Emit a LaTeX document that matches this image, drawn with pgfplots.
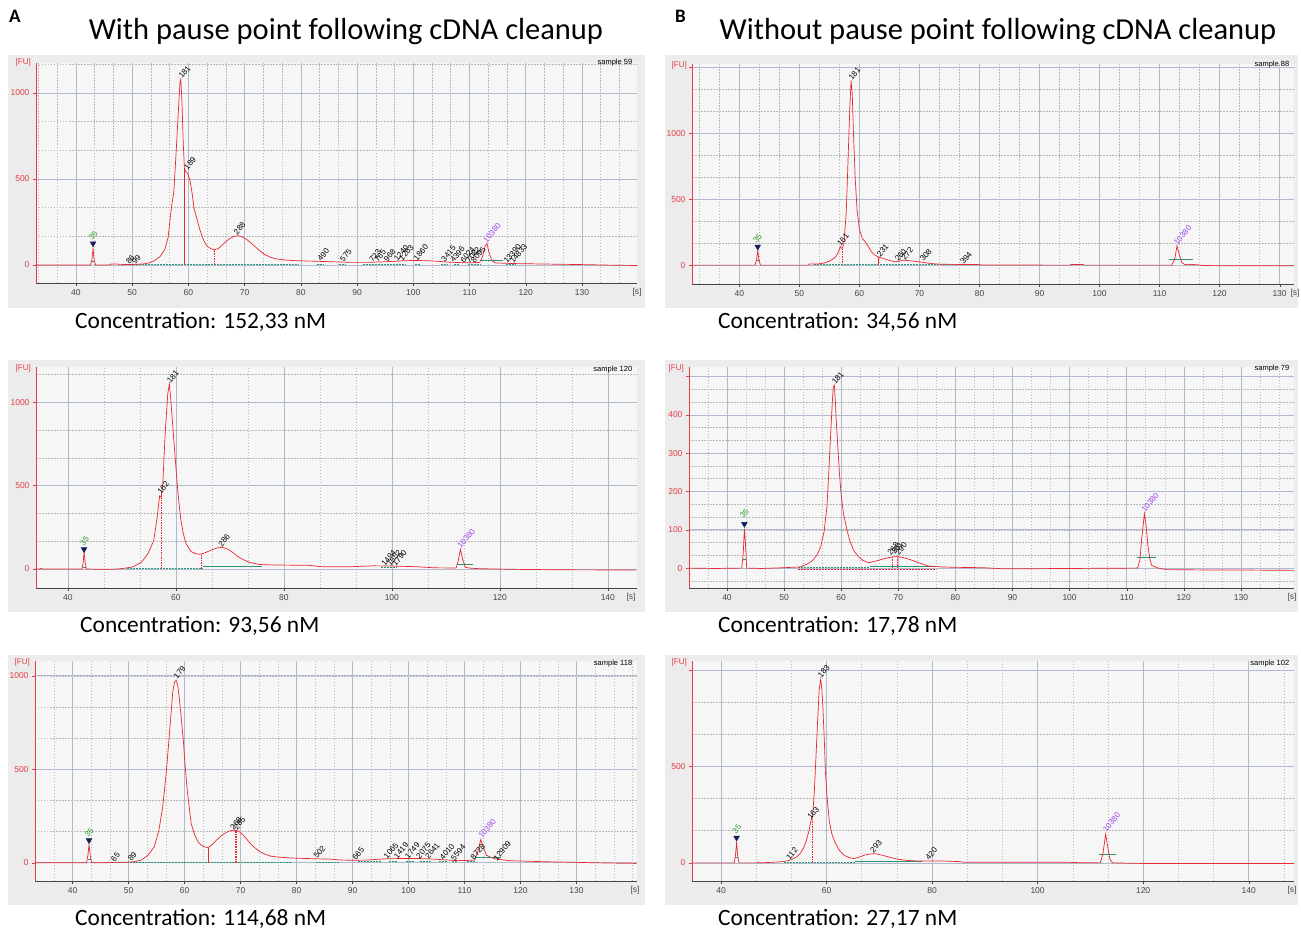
\documentclass[border=0pt]{standalone}
\usepackage{fontspec}
\setmainfont{Carlito}
\newfontfamily\tickfont{Liberation Sans}
\usepackage{pgfplots}
\pgfplotsset{compat=1.18}

\definecolor{trace}{RGB}{232,40,48}
\definecolor{fured}{RGB}{228,60,72}
\definecolor{majgrid}{RGB}{176,186,206}
\definecolor{mingrid}{RGB}{185,185,185}
\definecolor{basegreen}{RGB}{40,150,110}
\definecolor{lab35}{RGB}{40,160,40}
\definecolor{purp}{RGB}{160,70,240}
\definecolor{navy}{RGB}{20,30,90}
\definecolor{boxbg}{RGB}{236,236,236}
\definecolor{plotbg}{RGB}{246,246,246}
\definecolor{axgray}{RGB}{70,70,70}

\pgfplotsset{
  bio/.style={
    scale only axis, anchor=south west, clip=false,
    axis x line*=bottom, axis y line*=left,
    x axis line style={axgray, line width=0.7pt},
    y axis line style={fured, line width=0.7pt},
    axis background/.style={fill=plotbg},
    grid=both,
    major grid style={majgrid, line width=0.6pt},
    minor grid style={mingrid, line width=0.5pt, dash pattern=on 1.5pt off 1.5pt},
    tick align=outside, major tick length=3pt, minor tick length=0pt,
    xtick style={axgray}, ytick style={fured},
    ticklabel style={font=\tickfont\fontsize{8.5}{9}\selectfont},
    xticklabel style={text=axgray},
    yticklabel style={text=fured},
    /pgf/number format/assume math mode=true,
    /pgf/number format/1000 sep={},
    every axis plot/.append style={line width=0.6pt},
  },
  tr/.style={trace, line width=0.7pt},
  sep/.style={trace, line width=0.6pt},
  sepd/.style={trace, line width=0.7pt, dash pattern=on 1.5pt off 1pt},
  gb/.style={basegreen, line width=0.6pt, dash pattern=on 2pt off 1pt},
  gs/.style={basegreen, line width=0.8pt},
  tri/.style={only marks, mark=triangle*, mark size=3.2pt, mark options={rotate=180, fill=navy, draw=navy}},
}
\tikzset{
  plab/.style={font=\tickfont\fontsize{8}{8}\selectfont, rotate=50, anchor=west, inner sep=0.3pt},
  smp/.style={font=\tickfont\fontsize{7.5}{8}\selectfont, anchor=east, inner sep=1pt},
  ful/.style={font=\tickfont\fontsize{8}{8}\selectfont, text=fured, anchor=east, inner sep=1pt},
  sl/.style={font=\tickfont\fontsize{8.5}{9}\selectfont, text=axgray, anchor=north, inner sep=2pt},
  conc/.style={font=\fontsize{23.4}{24}\selectfont, anchor=base west, inner sep=0pt},
  ttl/.style={font=\fontsize{30.5}{32}\selectfont, anchor=base, inner sep=0pt},
}

\begin{document}
\begin{tikzpicture}
\path[use as bounding box] (0pt,0pt) rectangle (1301pt,-931pt);

% panel backgrounds
\fill[boxbg] (8pt,-55pt) rectangle (645pt,-308pt);
\fill[boxbg] (665pt,-55pt) rectangle (1298pt,-308pt);
\fill[boxbg] (8pt,-360pt) rectangle (645pt,-612pt);
\fill[boxbg] (665pt,-360pt) rectangle (1298pt,-612pt);
\fill[boxbg] (8pt,-655pt) rectangle (645pt,-905pt);
\fill[boxbg] (665pt,-655pt) rectangle (1298pt,-905pt);

% headings
\node[font=\bfseries\fontsize{19}{20}\selectfont, anchor=north west, inner sep=0pt] at (9pt,-10pt) {A};
\node[font=\bfseries\fontsize{19}{20}\selectfont, anchor=north west, inner sep=0pt] at (675pt,-10pt) {B};
\node[ttl] at (346pt,-40pt) {With pause point following cDNA cleanup};
\node[ttl] at (998pt,-40pt) {Without pause point following cDNA cleanup};

\node[conc] at (75pt,-328pt) {Concentration: 152,33 nM};
\node[conc] at (80pt,-632pt) {Concentration: 93,56 nM};
\node[conc] at (75pt,-925pt) {Concentration: 114,68 nM};
\node[conc] at (718pt,-328pt) {Concentration: 34,56 nM};
\node[conc] at (718pt,-632pt) {Concentration: 17,78 nM};
\node[conc] at (718pt,-925pt) {Concentration: 27,17 nM};

% ---------------- A1: sample 59
\begin{axis}[bio, at={(36pt,-283pt)}, width=601pt, height=220pt,
  xmin=32.9, xmax=139.8, ymin=-105, ymax=1174,
  xtick={40,50,...,130}, minor xtick={30,33.3333,...,150},
  ytick={0,500,1000}, minor ytick={-333.333,-166.667,...,1400}]
\addplot[gb] coordinates {(48,2) (79.5,2)};
\addplot[gb] coordinates {(82.8,4) (84,4)};
\addplot[gb] coordinates {(86.8,4) (88,4)};
\addplot[gb] coordinates {(91,5) (98.5,5)};
\addplot[gb] coordinates {(100.3,6) (101.2,6)};
\addplot[gb] coordinates {(105,6) (106.2,6)};
\addplot[gb] coordinates {(107.3,6) (108.3,6)};
\addplot[gb] coordinates {(109.8,6) (112,6)};
\addplot[gb] coordinates {(116.5,5) (118.2,5)};
\addplot[gs] coordinates {(112,28) (116,28)};
\addplot[gs] coordinates {(42.8,22) (43.4,22)};
\addplot[tr] coordinates {
(32.9,0) (42.6,0) (42.85,30) (43.05,95) (43.25,30) (43.5,0) (46,0) (46.3,5) (47.5,5)
(47.8,0) (48.5,2) (50,3) (51,4) (52,6) (53,12) (54,25) (55,50) (55.8,90) (56.4,160)
(56.8,280) (57.1,360) (57.4,420) (57.8,640) (58.2,880) (58.5,1060) (58.65,1080)
(58.85,960) (59.1,700) (59.3,560) (59.6,540) (59.9,530) (60.3,490) (60.7,410) (61,330)
(61.5,270) (62,210) (62.5,160) (63,125) (63.5,105) (64,95) (64.6,88) (65.3,95) (66,115)
(67,145) (68,165) (68.8,170) (69.5,165) (70.5,145) (71.5,118) (72.5,88) (73.5,62)
(74.5,46) (75.5,36) (77,29) (79,25) (81,23) (83,21) (86,18) (89,15) (92,15) (94,17)
(96,20) (98,24) (100,26) (102,25) (104,22) (106,17) (108,14) (110,12) (111.8,15)
(112.3,45) (112.8,110) (113.1,125) (113.5,70) (114,25) (114.6,12) (116,10) (118,8)
(120,7) (124,5) (128,3) (132,1) (136,-2) (139.8,-3)};
\addplot[sep] coordinates {(59.3,0) (59.3,555)};
\addplot[sepd] coordinates {(64.6,0) (64.6,88)};
\addplot[tri] coordinates {(43.05,125)};
\node[plab, text=lab35] at (axis cs:42.5,150) {35};
\node[plab] at (axis cs:49.1,8) {86};
\node[plab] at (axis cs:50.2,8) {99};
\node[plab] at (axis cs:58.5,1090) {181};
\node[plab] at (axis cs:59.5,560) {189};
\node[plab] at (axis cs:68.3,180) {288};
\node[plab] at (axis cs:83.2,28) {490};
\node[plab] at (axis cs:87.2,24) {575};
\node[plab] at (axis cs:92.4,22) {723};
\node[plab] at (axis cs:93.3,22) {765};
\node[plab] at (axis cs:95,24) {968};
\node[plab] at (axis cs:96.8,27) {1240};
\node[plab] at (axis cs:97.7,29) {1263};
\node[plab] at (axis cs:100.3,30) {1860};
\node[plab] at (axis cs:105.2,24) {3415};
\node[plab] at (axis cs:106.8,20) {4396};
\node[plab] at (axis cs:108.6,18) {6024};
\node[plab] at (axis cs:109.6,18) {7082};
\node[plab] at (axis cs:110.5,18) {8095};
\node[plab, text=purp] at (axis cs:112.7,135) {10380};
\node[plab] at (axis cs:116.3,14) {13390};
\node[plab] at (axis cs:117.4,14) {14833};
\node[sl] at (rel axis cs:1,0) [yshift=-3pt] {[s]};
\node[ful] at (rel axis cs:0,1) [xshift=-4pt, yshift=1pt] {[FU]};
\node[smp] at (rel axis cs:0.994,1) [yshift=0pt] {sample 59};
\end{axis}

% ---------------- B1: sample 88
\begin{axis}[bio, at={(692pt,-284pt)}, width=602pt, height=220pt,
  xmin=32.1, xmax=132.4, ymin=-143, ymax=1525,
  xtick={40,50,...,130}, minor xtick={30,33.3333,...,150},
  ytick={0,500,1000,1500}, yticklabels={0,500,1000,{}},
  minor ytick={-333.333,-166.667,...,1700}]
\addplot[gb] coordinates {(52.5,3) (80,3)};
\addplot[gs] coordinates {(111.5,40) (115.5,40)};
\addplot[gs] coordinates {(42.8,35) (43.4,35)};
\addplot[tr] coordinates {
(32.1,0) (42.6,0) (42.85,40) (43.05,110) (43.25,40) (43.5,0) (51.4,0) (51.6,8) (53,8)
(54,15) (55,30) (56,60) (56.5,100) (56.8,140) (57.1,125) (57.4,160) (57.8,400)
(58.1,800) (58.4,1200) (58.6,1400) (58.8,1300) (59.0,1000) (59.3,650) (59.6,420)
(60,270) (60.5,200) (61,175) (61.5,140) (62,100) (62.6,75) (63.2,60) (64,50) (65,35)
(66,25) (66.6,30) (67.3,38) (68,35) (69,30) (70,25) (71,18) (72,12) (73,8) (75,6)
(78,5) (80,4) (80.5,1) (95,0) (95.3,5) (97.2,5) (97.4,0) (112,0) (112.5,40) (112.9,145)
(113.3,80) (113.7,20) (114.2,5) (114.8,3) (115.2,6) (116.5,2) (117.2,-3) (120,-4)
(132.4,-5)};
\addplot[sepd] coordinates {(57.1,0) (57.1,125)};
\addplot[sep] coordinates {(63.2,0) (63.2,60)};
\addplot[tri] coordinates {(43.05,140)};
\node[plab, text=lab35] at (axis cs:42.5,175) {35};
\node[plab] at (axis cs:56.5,150) {161};
\node[plab] at (axis cs:58.4,1410) {181};
\node[plab] at (axis cs:63.1,70) {231};
\node[plab] at (axis cs:66.1,35) {260};
\node[plab] at (axis cs:67.2,45) {272};
\node[plab] at (axis cs:70.3,35) {308};
\node[plab] at (axis cs:77,12) {394};
\node[plab, text=purp] at (axis cs:112.6,160) {10380};
\node[sl] at (rel axis cs:1,0) [xshift=1pt, yshift=-3pt] {[s]};
\node[ful] at (rel axis cs:0,1) [xshift=-4pt, yshift=-1pt] {[FU]};
\node[smp] at (rel axis cs:0.994,1) [yshift=-1pt] {sample 88};
\end{axis}

% ---------------- A2: sample 120
\begin{axis}[bio, at={(36pt,-588pt)}, width=601pt, height=221pt,
  xmin=34.1, xmax=145.4, ymin=-114, ymax=1211,
  xtick={40,60,...,140}, minor xtick={20,26.6667,...,160},
  ytick={0,500,1000}, minor ytick={-333.333,-166.667,...,1400}]
\addplot[gb] coordinates {(51,4) (65,4)};
\addplot[gs] coordinates {(65,14) (76,14)};
\addplot[gb] coordinates {(98,8) (101,8)};
\addplot[gs] coordinates {(112,30) (115,30)};
\addplot[gs] coordinates {(42.8,10) (43.3,10)};
\addplot[tr] coordinates {
(34.1,0) (34.8,0) (35,4) (35.3,0) (42.6,0) (42.85,40) (43.0,100) (43.2,40) (43.45,0)
(46,-2) (48,-2) (49.5,1) (50.6,5) (52,12) (53.6,40) (54.8,90) (55.9,170) (56.5,300)
(57.0,440) (57.3,430) (57.6,520) (58.0,800) (58.5,1050) (58.8,1110) (59.1,1000)
(59.4,870) (59.8,700) (60.2,530) (60.5,420) (60.9,300) (61.4,210) (61.9,150)
(62.8,105) (63.6,92) (64.4,88) (65.2,95) (65.9,104) (66.7,116) (67.6,126) (68.6,130)
(69.7,118) (70.5,100) (71.3,78) (72.5,56) (73.6,40) (75.5,27) (78,24) (81.2,23)
(84.7,22) (86,17) (87,14) (92.7,14) (96.6,19) (99.6,18) (104.2,14) (108,7) (111.9,6)
(112.3,50) (112.7,118) (113.1,60) (113.6,10) (114.5,5) (116,2) (122.5,-2) (131.7,-5)
(145.3,-6)};
\addplot[sepd] coordinates {(57.35,0) (57.35,430)};
\addplot[sepd] coordinates {(64.8,0) (64.8,90)};
\addplot[tri] coordinates {(43.0,118)};
\node[plab, text=lab35] at (axis cs:42.5,145) {35};
\node[plab] at (axis cs:56.8,455) {162};
\node[plab] at (axis cs:58.6,1120) {181};
\node[plab] at (axis cs:68.1,140) {286};
\node[plab] at (axis cs:98.3,22) {1494};
\node[plab] at (axis cs:99.3,22) {1552};
\node[plab] at (axis cs:100.3,22) {1790};
\node[plab, text=purp] at (axis cs:112.4,130) {10380};
\node[sl] at (rel axis cs:1,0) [xshift=-6pt, yshift=-3pt] {[s]};
\node[ful] at (rel axis cs:0,1) [xshift=-4pt, yshift=-1pt] {[FU]};
\node[smp] at (rel axis cs:0.994,1) [yshift=-3pt] {sample 120};
\end{axis}

% ---------------- B2: sample 79
\begin{axis}[bio, at={(689pt,-588pt)}, width=605pt, height=221pt,
  xmin=33.35, xmax=139.3, ymin=-52, ymax=525,
  xtick={40,50,...,130}, minor xtick={30,33.3333,...,150},
  ytick={0,100,...,500}, yticklabels={0,100,200,300,400,{}},
  minor ytick={-66.6667,-33.3333,...,600}]
\addplot[gb] coordinates {(52.5,2) (65,2)};
\addplot[gs] coordinates {(65,5) (76.5,5)};
\addplot[trace, line width=0.5pt, dash pattern=on 1.5pt off 1.5pt] coordinates {(52.5,-2) (76.5,-2)};
\addplot[gs] coordinates {(111.8,28) (115.2,28)};
\addplot[gs] coordinates {(42.8,22) (43.4,22)};
\addplot[tr] coordinates {
(33.35,0) (38,-1) (42.6,0) (42.85,40) (43.05,103) (43.25,60) (43.45,0) (46,-1) (50,1)
(52.8,3) (54,10) (55,20) (55.8,35) (56.4,55) (57,95) (57.5,159) (57.8,240) (58.1,333)
(58.4,420) (58.6,472) (58.8,478) (59.0,430) (59.1,394) (59.4,320) (59.7,246)
(60.0,190) (60.4,142) (61.0,100) (61.5,72) (62.2,46) (63,30) (63.8,20) (64.8,14)
(66,18) (67.4,24) (68.5,28) (69.6,30) (70.3,29) (71.0,27) (72.1,22) (73.2,16)
(74.3,10) (75.4,5) (77.6,3) (80,2) (84.9,1) (88.5,-2) (100,-1) (111.9,0) (112.3,20)
(112.6,72) (113.1,142) (113.4,110) (113.7,60) (114.1,20) (114.4,7) (115.5,0) (117,-4)
(125,-5) (130,-5) (139.3,-6)};
\addplot[sepd] coordinates {(69.0,0) (69.0,30)};
\addplot[sepd] coordinates {(69.8,0) (69.8,30)};
\addplot[tri] coordinates {(43.05,115)};
\node[plab, text=lab35] at (axis cs:42.5,132) {35};
\node[plab] at (axis cs:58.6,482) {181};
\node[plab] at (axis cs:68.3,36) {268};
\node[plab] at (axis cs:69.0,38) {281};
\node[plab] at (axis cs:69.7,36) {290};
\node[plab, text=purp] at (axis cs:112.8,148) {10380};
\node[sl] at (rel axis cs:1,0) [xshift=-2pt, yshift=-3pt] {[s]};
\node[ful] at (rel axis cs:0,1) [xshift=-4pt, yshift=-1pt] {[FU]};
\node[smp] at (rel axis cs:0.994,1) [yshift=-2pt] {sample 79};
\end{axis}

% ---------------- A3: sample 118
\begin{axis}[bio, at={(35pt,-881pt)}, width=602pt, height=220pt,
  xmin=33.3, xmax=140.8, ymin=-98, ymax=1079,
  xtick={40,50,...,130}, minor xtick={30,33.3333,...,150},
  ytick={0,500,1000}, minor ytick={-333.333,-166.667,...,1400}]
\addplot[gb] coordinates {(46,3) (79,3)};
\addplot[gb] coordinates {(83.5,4) (87.5,4)};
\addplot[gb] coordinates {(91,5) (95,5)};
\addplot[gb] coordinates {(96.5,6) (98,6)};
\addplot[gb] coordinates {(99.5,6) (101,6)};
\addplot[gb] coordinates {(102,6) (104,6)};
\addplot[gb] coordinates {(105.5,6) (107,6)};
\addplot[gb] coordinates {(107.8,6) (108.8,6)};
\addplot[gb] coordinates {(110.5,8) (112,8)};
\addplot[gs] coordinates {(112,30) (116.5,30)};
\addplot[gs] coordinates {(42.7,20) (43.3,20)};
\addplot[tr] coordinates {
(33.3,0) (42.5,0) (42.75,40) (42.95,97) (43.15,40) (43.4,0) (46,0) (48,2) (50,3)
(51,5) (52.3,14) (53.5,40) (54.6,85) (55.4,170) (56.1,297) (56.7,470) (57.2,650)
(57.6,800) (57.9,915) (58.2,965) (58.5,975) (58.8,945) (59.0,898) (59.4,780)
(59.8,650) (60.1,520) (60.5,385) (60.9,280) (61.2,208) (61.8,150) (62.4,111)
(63.0,94) (63.5,86) (64.2,80) (65.0,98) (65.7,120) (66.6,145) (67.6,164) (68.3,172)
(69.0,174) (69.7,168) (70.5,147) (71.2,122) (72.0,94) (72.8,74) (73.5,58) (74.4,45)
(75.4,35) (77,29) (79.1,25) (81,23) (83.5,21) (86,19) (88,14) (90,13) (92.5,14)
(94,17) (96.2,21) (98,22) (101.4,23) (103,21) (105.1,18) (107,14) (108.8,11)
(110.5,12) (111.8,14) (112.4,60) (112.9,124) (113.4,80) (113.9,40) (114.6,30)
(115.5,20) (117.9,11) (121,8) (124.5,5) (128,3) (132.6,0) (136,-2) (140.7,-4)};
\addplot[sep] coordinates {(64.2,0) (64.2,80)};
\addplot[trace, line width=1.1pt, dash pattern=on 1.5pt off 1pt] coordinates {(69.2,0) (69.2,174)};
\addplot[tri] coordinates {(42.95,120)};
\node[plab, text=lab35] at (axis cs:42.4,140) {35};
\node[plab] at (axis cs:47.1,10) {65};
\node[plab] at (axis cs:50.1,12) {89};
\node[plab] at (axis cs:58.3,990) {179};
\node[plab] at (axis cs:68.4,182) {268};
\node[plab] at (axis cs:69.0,182) {285};
\node[plab] at (axis cs:83.3,28) {502};
\node[plab] at (axis cs:90.2,18) {665};
\node[plab] at (axis cs:95.8,25) {1065};
\node[plab] at (axis cs:97.6,27) {1419};
\node[plab] at (axis cs:99.6,27) {1749};
\node[plab] at (axis cs:101.6,27) {2075};
\node[plab] at (axis cs:103.2,25) {2641};
\node[plab] at (axis cs:105.8,20) {4010};
\node[plab] at (axis cs:107.8,16) {5594};
\node[plab] at (axis cs:111.3,20) {8728};
\node[plab, text=purp] at (axis cs:112.7,135) {10380};
\node[plab] at (axis cs:115.4,16) {12909};
\node[sl] at (rel axis cs:1,0) [xshift=-2pt, yshift=-3pt] {[s]};
\node[ful] at (rel axis cs:0,1) [xshift=-4pt, yshift=-1pt] {[FU]};
\node[smp] at (rel axis cs:0.994,1) [yshift=-3pt] {sample 118};
\end{axis}

% ---------------- B3: sample 102
\begin{axis}[bio, at={(692pt,-881pt)}, width=602pt, height=220pt,
  xmin=34.5, xmax=148.6, ymin=-94, ymax=1046,
  xtick={40,60,...,140}, minor xtick={20,26.6667,...,160},
  ytick={0,500,1000}, yticklabels={0,500,{}},
  minor ytick={-333.333,-166.667,...,1400}]
\addplot[gb] coordinates {(52,3) (65.3,3)};
\addplot[gs] coordinates {(65.3,8) (78,8)};
\addplot[gs] coordinates {(111.7,45) (114.8,45)};
\addplot[gs] coordinates {(42.7,30) (43.3,30)};
\addplot[tr] coordinates {
(34.5,0) (42.5,0) (42.75,40) (42.95,109) (43.15,40) (43.4,0) (46.8,0) (47,4) (47.3,0)
(49,2) (51.1,5) (52.5,10) (53.4,17) (54.3,30) (55,48) (55.7,80) (56.2,118) (56.7,170)
(57.0,213) (57.2,230) (57.4,256) (57.7,380) (58.0,550) (58.3,730) (58.6,896)
(58.9,952) (59.1,900) (59.3,810) (59.6,620) (59.8,464) (60.1,340) (60.5,221)
(61.0,150) (61.7,100) (62.5,62) (63.3,40) (64.2,28) (65.2,22) (66.2,30) (67.2,40)
(68.2,46) (69.2,48) (70.2,42) (71.2,35) (72.5,25) (74.0,17) (75.5,12) (77.1,10)
(80,10) (81.9,10) (83.5,8) (85,7) (86,3) (87.4,3) (95,3) (100,3) (105.6,3) (108,1)
(111.9,0) (112.4,50) (112.9,149) (113.3,80) (113.7,20) (114.2,0) (119.8,-3) (125,-3)
(148.6,-3)};
\addplot[sepd] coordinates {(57.3,0) (57.3,245)};
\addplot[tri] coordinates {(42.95,130)};
\node[plab, text=lab35] at (axis cs:42.4,155) {35};
\node[plab] at (axis cs:52.6,22) {112};
\node[plab] at (axis cs:56.6,230) {163};
\node[plab] at (axis cs:58.6,965) {183};
\node[plab] at (axis cs:68.5,58) {293};
\node[plab] at (axis cs:79,18) {420};
\node[plab, text=purp] at (axis cs:112.6,165) {10380};
\node[sl] at (rel axis cs:1,0) [xshift=-2pt, yshift=-3pt] {[s]};
\node[ful] at (rel axis cs:0,1) [xshift=-4pt, yshift=-1pt] {[FU]};
\node[smp] at (rel axis cs:0.994,1) [yshift=-3pt] {sample 102};
\end{axis}
\end{tikzpicture}
\end{document}
